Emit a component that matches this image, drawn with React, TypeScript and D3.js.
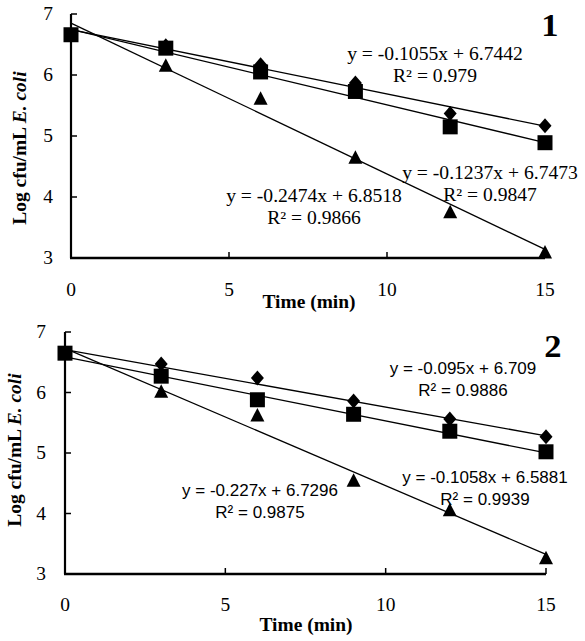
import React from "react";
import * as d3 from "d3";

const times = [0, 3, 6, 9, 12, 15];
const xTicks = [0, 5, 10, 15];
const yTicks = [3, 4, 5, 6, 7];

const p1Diamond = [6.66, 6.48, 6.17, 5.87, 5.37, 5.17];
const p1Square = [6.66, 6.44, 6.05, 5.73, 5.15, 4.89];
const p1Triangle = [6.66, 6.16, 5.62, 4.65, 3.76, 3.1];
const p1Slopes = [-0.1055, -0.1237, -0.2474];
const p1Intercepts = [6.7442, 6.7473, 6.8518];
const p1Eq = ["y = -0.1055x + 6.7442", "y = -0.1237x + 6.7473", "y = -0.2474x + 6.8518"];
const p1R2 = ["R² = 0.979", "R² = 0.9847", "R² = 0.9866"];

const p2Diamond = [6.65, 6.47, 6.24, 5.86, 5.56, 5.27];
const p2Square = [6.65, 6.27, 5.88, 5.64, 5.36, 5.02];
const p2Triangle = [6.65, 6.02, 5.63, 4.55, 4.06, 3.27];
const p2Slopes = [-0.095, -0.1058, -0.227];
const p2Intercepts = [6.709, 6.5881, 6.7296];
const p2Eq = ["y = -0.095x + 6.709", "y = -0.1058x + 6.5881", "y = -0.227x + 6.7296"];
const p2R2 = ["R² = 0.9886", "R² = 0.9939", "R² = 0.9875"];

const SERIF = "'Liberation Serif', 'Times New Roman', serif";
const SANS = "'Liberation Sans', Arial, sans-serif";
const STRETCH = 1.08;

type TProps = {
  x: number;
  y: number;
  sx?: number;
  rotate?: number;
  anchor?: string;
  dy?: string;
  family?: string;
  size?: number;
  weight?: string;
  children?: React.ReactNode;
};

function T({ x, y, sx = STRETCH, rotate = 0, anchor = "middle", dy, family = SERIF, size = 18, weight, children }: TProps) {
  return (
    <text
      transform={`translate(${x},${y}) rotate(${rotate}) scale(${sx},1)`}
      textAnchor={anchor}
      dy={dy}
      fontFamily={family}
      fontSize={size}
      fontWeight={weight}
    >
      {children}
    </text>
  );
}

type PanelProps = {
  series: number[][];
  slopes: number[];
  intercepts: number[];
  eqs: string[];
  r2s: string[];
  left: number;
  right: number;
  top: number;
  bottom: number;
  labelPos: [number, number][];
  labelFont: string;
  labelSize: number;
  labelStretch: number;
  tag: string;
  tagPos: [number, number];
  yTitleX: number;
  yTitleY: number;
  yTickX: number;
  xTickY: number;
  xTitleX: number;
  xTitleY: number;
};

const diamondPath = "M0,-7.5L6.5,0L0,7.5L-6.5,0Z";
const squarePath = "M-7.5,-7.5H7.5V7.5H-7.5Z";
const trianglePath = "M0,-7L7,6.5L-7,6.5Z";
const markerPaths = [diamondPath, squarePath, trianglePath];

function Panel(p: PanelProps) {
  const x = d3.scaleLinear().domain([0, 15]).range([p.left, p.right]);
  const y = d3.scaleLinear().domain([3, 7]).range([p.bottom, p.top]);
  return (
    <g>
      {p.slopes.map((s, i) => {
        const fit = d3
          .line<number>()
          .x((t) => x(t))
          .y((t) => y(s * t + p.intercepts[i]));
        return <path key={"l" + i} d={fit([0, 15]) || ""} stroke="#000" strokeWidth={1.3} fill="none" />;
      })}
      <line x1={p.left} x2={p.left} y1={p.top} y2={p.bottom} stroke="#000" strokeWidth={2.2} />
      <line x1={p.left - 1} x2={p.right} y1={p.bottom} y2={p.bottom} stroke="#000" strokeWidth={2.5} />
      {yTicks.map((t) => (
        <g key={"yt" + t}>
          <line x1={p.left} x2={p.left + 6} y1={y(t)} y2={y(t)} stroke="#000" strokeWidth={1.5} />
          <T x={p.yTickX} y={y(t)} dy="0.35em" anchor="end">
            {t}
          </T>
        </g>
      ))}
      {xTicks.map((t) => (
        <g key={"xt" + t}>
          <line x1={x(t)} x2={x(t)} y1={p.bottom} y2={p.bottom - 6} stroke="#000" strokeWidth={1.5} />
          <T x={x(t)} y={p.xTickY}>
            {t}
          </T>
        </g>
      ))}
      <T x={p.xTitleX} y={p.xTitleY} weight="bold">
        Time (min)
      </T>
      <T x={p.yTitleX} y={p.yTitleY} rotate={-90} dy="0.35em" weight="bold">
        {"Log  cfu/mL "}
        <tspan fontStyle="italic">E. coli</tspan>
      </T>
      {p.series.map((vals, si) =>
        vals.map((v, i) => (
          <path
            key={"m" + si + "-" + i}
            d={markerPaths[si]}
            transform={`translate(${x(times[i])},${y(v)})`}
            fill="#000"
          />
        ))
      )}
      {p.eqs.map((e, i) => (
        <g key={"eq" + i}>
          <T
            x={p.labelPos[i][0]}
            y={p.labelPos[i][1]}
            dy="0.35em"
            family={p.labelFont}
            size={p.labelSize}
            sx={p.labelStretch}
          >
            {e}
          </T>
          <T
            x={p.labelPos[i][0]}
            y={p.labelPos[i][1] + 22}
            dy="0.35em"
            family={p.labelFont}
            size={p.labelSize}
            sx={p.labelStretch}
          >
            {p.r2s[i]}
          </T>
        </g>
      ))}
      <T x={p.tagPos[0]} y={p.tagPos[1]} size={32} weight="bold">
        {p.tag}
      </T>
    </g>
  );
}

export default function App() {
  return (
    <svg width={585} height={641} style={{ position: "absolute", left: 0, top: 0, background: "#fff" }}>
      <rect width={585} height={641} fill="#fff" />
      <Panel
        series={[p1Diamond, p1Square, p1Triangle]}
        slopes={p1Slopes}
        intercepts={p1Intercepts}
        eqs={p1Eq}
        r2s={p1R2}
        left={71}
        right={545}
        top={14}
        bottom={258}
        labelPos={[
          [435, 54],
          [490, 173],
          [314, 196],
        ]}
        labelFont={SERIF}
        labelSize={18}
        labelStretch={1.09}
        tag="1"
        tagPos={[550, 36]}
        yTitleX={20}
        yTitleY={148}
        yTickX={53}
        xTickY={296}
        xTitleX={309}
        xTitleY={308}
      />
      <Panel
        series={[p2Diamond, p2Square, p2Triangle]}
        slopes={p2Slopes}
        intercepts={p2Intercepts}
        eqs={p2Eq}
        r2s={p2R2}
        left={65}
        right={546}
        top={332}
        bottom={574}
        labelPos={[
          [463, 368],
          [485, 477],
          [260, 490],
        ]}
        labelFont={SANS}
        labelSize={17}
        labelStretch={1}
        tag="2"
        tagPos={[553, 357]}
        yTitleX={15}
        yTitleY={450}
        yTickX={46}
        xTickY={611}
        xTitleX={306}
        xTitleY={631}
      />
    </svg>
  );
}
